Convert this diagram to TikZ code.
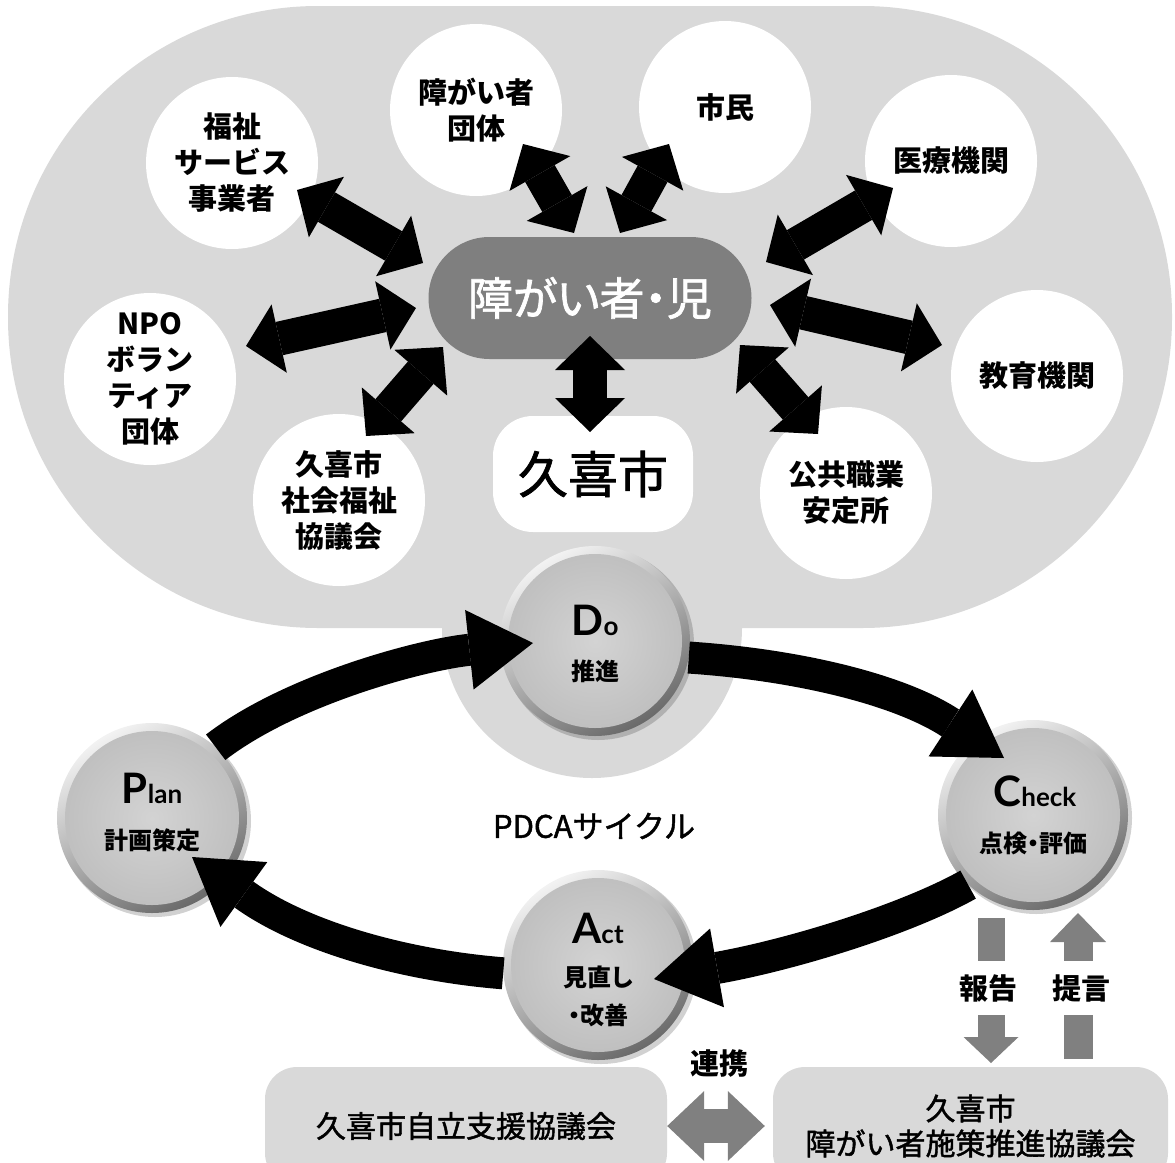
\documentclass[tikz,border=0pt]{standalone}
\usepackage{fontspec}
\newfontfamily\jp{Noto Sans CJK JP}
\newfontfamily\jpm{Noto Sans CJK JP}[FakeBold=1.5]
\newfontfamily\jpp{Noto Sans CJK JP}[FakeBold=1.5,RawFeature=+palt]
\newfontfamily\jpbp{Noto Sans CJK JP}[RawFeature=+palt]
\newfontfamily\lat{Lato}
\usetikzlibrary{arrows.meta,calc}
\definecolor{bgc}{HTML}{D9D9D9}
\definecolor{pillc}{HTML}{7F7F7F}
\definecolor{garc}{HTML}{808080}
\definecolor{rimlight}{HTML}{F2F2F2}
\definecolor{rimdark}{HTML}{6A6A6A}
\definecolor{facein}{HTML}{D3D3D3}
\definecolor{faceout}{HTML}{BEBEBE}
\tikzset{
  wc/.style={circle,fill=white,minimum size=172pt,inner sep=0pt,align=center,
    font=\jp\bfseries\fontsize{29}{36}\selectfont},
  fat/.style={line width=34pt,
    {Triangle[length=34pt,width=70pt,line width=0pt]}-{Triangle[length=34pt,width=70pt,line width=0pt]}},
  ball/.style={circle,minimum size=190pt,inner sep=0pt,shading=axis,
    top color=rimlight,bottom color=rimdark,shading angle=30,
    path picture={\shade[inner color=facein,outer color=faceout]
      (path picture bounding box.center) circle (87pt);}},
  ballshadow/.style={circle,minimum size=192pt,inner sep=0pt,fill=black,opacity=0.18},
  pd/.style={line width=32pt,-{Triangle[length=64pt,width=80pt,line width=0pt]}},
  latl/.style={inner sep=0pt,font=\lat\bfseries\fontsize{42}{42}\selectfont},
  kanl/.style={inner sep=0pt,font=\jpbp\bfseries\fontsize{24}{30}\selectfont,align=center},
  gbox/.style={rectangle,fill=bgc,rounded corners=32pt,inner sep=0pt,align=center,
    font=\jpm\fontsize{30}{35}\selectfont},
  glab/.style={inner sep=0pt,fill=white,minimum height=54pt,minimum width=62pt,
    font=\jp\bfseries\fontsize{29}{29}\selectfont},
}
\begin{document}
\begin{tikzpicture}[x=1pt,y=-1pt]
\useasboundingbox (0,0) rectangle (1175,1162);
% background shapes
\fill[bgc,rounded corners=310pt] (8,6) rectangle (1172,628);
\fill[bgc] (592,628) circle (150pt);
% white circles
\node[wc] (fukushi) at (232,163) {福祉\\サービス\\事業者};
\node[wc] (dantai) at (476,110) {障がい者\\団体};
\node[wc] (shimin) at (725,107) {市民};
\node[wc] (iryo) at (951,161) {医療機関};
\node[wc] (npo) at (150,379) {NPO\\ボラン\\ティア\\団体};
\node[wc] (kyoiku) at (1037,376) {教育機関};
\node[wc] (shakyo) at (339,500) {久喜市\\社会福祉\\協議会};
\node[wc] (kokyo) at (846,493) {公共職業\\安定所};
% center
\node[rectangle,fill=pillc,rounded corners=61pt,minimum width=323pt,minimum height=122pt,
  inner sep=0pt,text=white,font=\jpp\fontsize{45}{45}\selectfont] (pill) at (590,298) {障がい者・児};
\node[rectangle,fill=white,rounded corners=40pt,minimum width=200pt,minimum height=116pt,
  inner sep=0pt,font=\jpm\fontsize{50}{50}\selectfont] (kuki) at (593,474) {久喜市};
% fat black arrows
\coordinate (f1) at (297,190); \coordinate (f2) at (423,263);
\coordinate (d1) at (523,144); \coordinate (d2) at (574,233);
\coordinate (s1) at (669,144); \coordinate (s2) at (620,233);
\coordinate (i1) at (893,188); \coordinate (i2) at (766,262);
\coordinate (n1) at (246,346); \coordinate (n2) at (416,308);
\coordinate (k1) at (942,345); \coordinate (k2) at (770,305);
\coordinate (c1) at (366,436); \coordinate (c2) at (443,347);
\coordinate (o1) at (818,434); \coordinate (o2) at (740,345);
\coordinate (v1) at (590,336); \coordinate (v2) at (590,432);
\draw[fat] (f1) -- (f2);
\draw[fat] (d1) -- (d2);
\draw[fat] (s1) -- (s2);
\draw[fat] (i1) -- (i2);
\draw[fat] (n1) -- (n2);
\draw[fat] (k1) -- (k2);
\draw[fat] (c1) -- (c2);
\draw[fat] (o1) -- (o2);
\draw[fat] (v1) -- (v2);
% PDCA circles
\node[ballshadow] (plansh) at (155,821) {};
\node[ballshadow] (dosh) at (598,644) {};
\node[ballshadow] (checksh) at (1036,818) {};
\node[ballshadow] (actsh) at (601,968) {};
\node[ball] (plan) at (152,818) {};
\node[ball] (do) at (595,641) {};
\node[ball] (check) at (1033,815) {};
\node[ball] (act) at (598,965) {};
% PDCA arrows
\coordinate (dotip) at (533,643);
\coordinate (chktip) at (1004,758);
\coordinate (acttip) at (654,979);
\coordinate (plantip) at (192,857);
\draw[pd] (plan.48) .. controls (290,690) and (420,655) .. (dotip);
\draw[pd] (do.-10) .. controls (800,665) and (900,690) .. (chktip);
\draw[pd] (check.-133) .. controls (905,920) and (790,955) .. (acttip);
\draw[pd] (act.185) .. controls (400,965) and (300,935) .. (plantip);
% PDCA labels
\node[latl] (plant) at (152,788) {P{\fontsize{26}{26}\selectfont lan}};
\node[kanl] (plank) at (152,840) {計画策定};
\node[latl] (dot) at (595,620) {D{\fontsize{26}{26}\selectfont o}};
\node[kanl] (dok) at (595,671) {推進};
\node[latl] (checkt) at (1035,791) {C{\fontsize{26}{26}\selectfont heck}};
\node[kanl] (checkk) at (1033,843) {点検・評価};
\node[latl] (actt) at (598,928) {A{\fontsize{26}{26}\selectfont ct}};
\node[kanl] (actk1) at (598,977) {見直し};
\node[kanl] (actk2) at (598,1015) {・改善};
\node[inner sep=0pt,font=\jpm\fontsize{31}{31}\selectfont] (cycle) at (594,826) {PDCAサイクル};
% bottom boxes
\node[gbox,minimum width=402pt,minimum height=118pt] (lbox) at (466,1126) {久喜市自立支援協議会};
\node[gbox,minimum width=395pt,minimum height=118pt] (rbox) at (970.5,1126) {久喜市\\障がい者施策推進協議会};
% grey arrows
\coordinate (h1) at (991,918); \coordinate (h2) at (991,1063);
\coordinate (t1) at (1078,1059); \coordinate (t2) at (1078,913);
\draw[garc,line width=27pt,-{Triangle[length=26pt,width=55pt,line width=0pt]}] (h1) -- (h2);
\draw[garc,line width=29pt,-{Triangle[length=29pt,width=56pt,line width=0pt]}] (t1) -- (t2);
\node[glab] (houkoku) at (988,988) {報告};
\node[glab] (teigen) at (1081,988) {提言};
\draw[garc,line width=34pt,shorten >=8pt,
  {Triangle[length=37pt,width=70pt,line width=0pt]}-{Triangle[length=37pt,width=70pt,line width=0pt]}]
  (lbox.east) -- (rbox.west);
\node[inner sep=0pt,font=\jp\bfseries\fontsize{29}{29}\selectfont] (renkei) at (719,1063) {連携};
\end{tikzpicture}
\end{document}
